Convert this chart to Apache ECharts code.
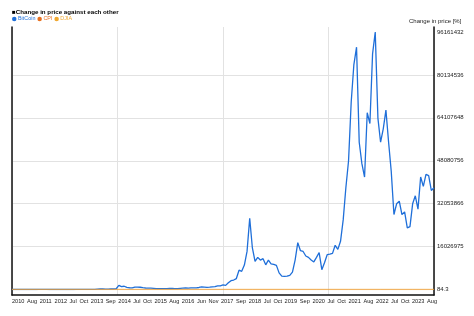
<!DOCTYPE html>
<html>
<head>
<meta charset="utf-8">
<script src="https://cdn.jsdelivr.net/npm/echarts@6/dist/echarts.min.js"></script>
<style>html,body{margin:0;padding:0;background:#fff;}#c{width:474px;height:316px;}</style>
</head>
<body>
<div id="c"></div>
<script>
// Monthly categories Jul 2010 .. Sep 2023
const months = [];
for (let y = 2010, m = 7; y < 2023 || (y === 2023 && m <= 9); m++) {
  if (m > 12) { m = 1; y++; }
  months.push(y + '-' + String(m).padStart(2, '0'));
}

// Bitcoin change in price [%], monthly readings
const btc = [
  100, 100, 90, 140, 360, 360,
  570, 1280, 1210, 2130, 9960, 24190, 19920, 14230, 7120, 4550, 3560, 5690,
  8540, 7120, 6970, 7120, 7260, 9250, 12810, 14230, 17080, 15650, 17080, 19210,
  28460, 46960, 128070, 199220, 182140, 138030, 150840, 192110, 192110, 284600, 1565300, 1067250,
  1209550, 796880, 654580, 640350, 882260, 910720, 839570, 683040, 554970, 483820, 540740, 455360,
  313060, 362870, 348640, 334410, 327290, 369980, 405560, 327290, 337250, 441130, 540740, 611890,
  526510, 619010, 590550, 640350, 754190, 953410, 889380, 818230, 868030, 996100, 1053020, 1366080,
  1380310, 1693370, 1536840, 2500000, 3300000, 3529040, 4084010, 7200000, 6800000, 9107200, 14230000, 26600000,
  15.5e6, 10.5e6, 12.0e6, 11.0e6, 11.5e6, 9.2e6, 11.0e6, 9.6e6, 9.4e6, 9.0e6, 6.2e6, 5.0e6,
  4.9e6, 5.0e6, 5.3e6, 6.5e6, 11.0e6, 17.5e6, 14.5e6, 14.2e6, 12.5e6, 12.0e6, 11.0e6, 10.3e6,
  12.0e6, 13.8e6, 7.4e6, 10.0e6, 13.0e6, 13.2e6, 13.5e6, 16.5e6, 15.0e6, 18.0e6, 26.0e6, 38.0e6,
  48.0e6, 70.0e6, 84.0e6, 90.5e6, 55.0e6, 47.0e6, 42.0e6, 66.0e6, 62.0e6, 88.0e6, 96161432, 64.0e6,
  55.0e6, 60.0e6, 67.0e6, 55.0e6, 44.0e6, 28.0e6, 32.0e6, 33.0e6, 28.0e6, 29.0e6, 23.0e6, 23.5e6,
  32.0e6, 35.0e6, 30.0e6, 42.0e6, 38.5e6, 43.0e6, 42.5e6, 37.0e6, 38.0e6
];

// CPI and DJIA change in price [%], yearly readings [month, value]
const cpi = [
  ['2010-07', 100], ['2011-01', 101], ['2012-01', 104], ['2013-01', 106], ['2014-01', 107.5],
  ['2015-01', 107.6], ['2016-01', 109], ['2017-01', 111.5], ['2018-01', 114], ['2019-01', 116],
  ['2020-01', 118.6], ['2021-01', 120.5], ['2022-01', 129], ['2023-01', 137], ['2023-09', 140]
];
const djia = [
  ['2010-07', 100], ['2011-01', 117], ['2012-01', 123], ['2013-01', 137], ['2014-01', 162],
  ['2015-01', 175], ['2016-01', 162], ['2017-01', 196], ['2018-01', 258], ['2019-01', 240],
  ['2020-01', 284], ['2021-01', 300], ['2022-01', 355], ['2023-01', 330], ['2023-09', 345]
];

const yMin = 84.3, yMax = 96161432;
const yTickLabels = ['84.3', '16026975', '32053866', '48080756', '64107648', '80134536', '96161432'];
// x tick labels as printed, and the date each one sits under
const xTickLabels = ['2010', 'Aug', '2011', '2012', 'Jul', 'Oct', '2013', 'Sep', '2014', 'Jul', 'Oct',
  '2015', 'Aug', '2016', 'Jun', 'Nov', '2017', 'Sep', '2018', 'Jul', 'Oct', '2019', 'Sep', '2020',
  'Jul', 'Oct', '2021', 'Aug', '2022', 'Jul', 'Oct', '2023', 'Aug'];
const xTickDates = ['2010-09-10', '2011-02-15', '2011-07-20', '2012-01-08', '2012-05-28', '2012-09-27',
  '2013-02-24', '2013-07-29', '2014-01-04', '2014-05-24', '2014-09-21', '2015-02-20', '2015-07-25',
  '2015-12-29', '2016-05-30', '2016-10-14', '2017-03-19', '2017-08-24', '2018-01-29', '2018-06-18',
  '2018-10-16', '2019-03-14', '2019-08-20', '2020-01-25', '2020-06-14', '2020-10-12', '2021-03-10',
  '2021-08-15', '2022-01-20', '2022-06-09', '2022-10-07', '2023-03-05', '2023-08-10'];
const xTickTimes = xTickDates.map(d => Date.parse(d + 'T00:00:00Z'));
const labelAt = {};
xTickTimes.forEach((t, k) => { labelAt[t] = xTickLabels[k]; });

const FONT = 'Liberation Sans, Arial, sans-serif';
const yInterval = (yMax - yMin) / 6;
const chart = echarts.init(document.getElementById('c'), null, { renderer: 'canvas' });

chart.setOption({
  animation: false,
  backgroundColor: '#fff',
  textStyle: { fontFamily: FONT },
  title: [
    { text: '■Change in price against each other', left: 12, top: 9.5, padding: 0,
      textStyle: { fontSize: 6.2, fontWeight: 'bold', color: '#000', fontFamily: FONT } },
    { text: 'Change in price [%]', left: 409, top: 18, padding: 0,
      textStyle: { fontSize: 6, fontWeight: 'normal', color: '#222', fontFamily: FONT } }
  ],
  legend: {
    left: 12, top: 16.5, padding: 0, icon: 'circle', itemWidth: 4.5, itemHeight: 4.5, itemGap: 2,
    textStyle: { fontSize: 5.4, fontFamily: FONT, padding: [0, 0, 0, -3.5] },
    data: [
      { name: 'BitCoin', textStyle: { color: '#1f6fd9' } },
      { name: 'CPI', textStyle: { color: '#e8701e' } },
      { name: 'DJIA', textStyle: { color: '#f0a830' } }
    ]
  },
  grid: [
    { left: 12, right: 40, top: 27, bottom: 21 },
    { left: 12, right: 40, top: 32, bottom: 26.5 },
    { left: 12, right: 40, top: 32, bottom: 26.5 }
  ],
  xAxis: [
    { gridIndex: 0, type: 'value', min: 0, max: 4, interval: 1,
      axisLine: { show: true, onZero: false, lineStyle: { color: '#111', width: 1.5 } },
      axisTick: { show: false }, axisLabel: { show: false },
      splitLine: { show: true, lineStyle: { color: '#e2e2e2', width: 1 } } },
    { gridIndex: 1, type: 'category', data: months, boundaryGap: false, show: false },
    { gridIndex: 2, type: 'value', min: Date.parse('2010-07-01T00:00:00Z'), max: Date.parse('2023-09-01T00:00:00Z'),
      axisLine: { show: false }, axisTick: { show: false }, splitLine: { show: false },
      axisLabel: { show: true, hideOverlap: false,
        customValues: xTickTimes, fontSize: 5.6, color: '#222', margin: 8.5, fontFamily: FONT,
        formatter: v => labelAt[v] || '' } }
  ],
  yAxis: [
    { gridIndex: 0, type: 'value', min: 0, max: 1, position: 'left',
      axisLine: { show: true, lineStyle: { color: '#111', width: 1.5 } },
      axisTick: { show: false }, axisLabel: { show: false }, splitLine: { show: false } },
    { gridIndex: 0, type: 'value', min: 0, max: 1, position: 'right',
      axisLine: { show: true, lineStyle: { color: '#111', width: 1.5 } },
      axisTick: { show: false }, axisLabel: { show: false }, splitLine: { show: false } },
    { gridIndex: 1, type: 'value', min: yMin, max: yMax, interval: yInterval, position: 'right',
      axisLine: { show: false }, axisTick: { show: false },
      splitLine: { show: true, lineStyle: { width: 1,
        color: ['rgba(0,0,0,0)', '#e2e2e2', '#e2e2e2', '#e2e2e2', '#e2e2e2', '#e2e2e2', 'rgba(0,0,0,0)'] } },
      axisLabel: { fontSize: 6, color: '#222', margin: 3, fontFamily: FONT,
        formatter: v => yTickLabels[Math.round((v - yMin) / yInterval)] || '' } },
    { gridIndex: 2, type: 'value', show: false }
  ],
  series: [
    { name: 'BitCoin', type: 'line', xAxisIndex: 1, yAxisIndex: 2, data: btc,
      symbol: 'none', color: '#1f6fd9', lineStyle: { width: 1.3, color: '#1f6fd9' } },
    { name: 'CPI', type: 'line', xAxisIndex: 1, yAxisIndex: 2, data: cpi,
      symbol: 'none', color: '#e8701e', lineStyle: { width: 1, color: '#e8701e', opacity: 0.5 } },
    { name: 'DJIA', type: 'line', xAxisIndex: 1, yAxisIndex: 2, data: djia,
      symbol: 'none', color: '#f0a830', lineStyle: { width: 1.5, color: '#f0b040', opacity: 0.55 } }
  ]
});
</script>
</body>
</html>
